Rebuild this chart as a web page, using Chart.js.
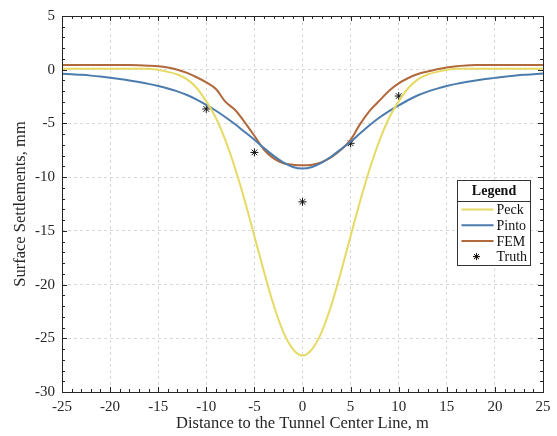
<!DOCTYPE html>
<html lang="en">
<head>
    <meta charset="UTF-8">
    <title>Surface Settlements</title>
    <style>
        body { margin: 0; background: #fff; }
        #chart { display: block; }
    </style>
    <script src="https://cdn.jsdelivr.net/npm/chart.js"></script>
</head>
<body>
    <canvas id="chart" width="557" height="436"></canvas>

    <script>
        // Data (x in m, settlement in mm)
        const xs = [-25, -24, -23, -22, -21, -20, -19, -18, -17, -16, -15, -14, -13, -12, -11, -10, -9, -8, -7, -6, -5, -4, -3, -2, -1,
                    0, 1, 2, 3, 4, 5, 6, 7, 8, 9, 10, 11, 12, 13, 14, 15, 16, 17, 18, 19, 20, 21, 22, 23, 24, 25];

        const peck = [0.1, 0.1, 0.1, 0.1, 0.1, 0.1, 0.1, 0.1, 0.1, 0.08, 0.0, -0.2, -0.45, -0.9, -1.7, -2.95, -4.5, -6.6, -9.2, -12.2, -15.5, -18.8, -21.9, -24.4, -26.0,
                      -26.6, -26.0, -24.4, -21.9, -18.8, -15.5, -12.2, -9.2, -6.6, -4.5, -2.95, -1.7, -0.9, -0.45, -0.2, 0.0, 0.08, 0.1, 0.1, 0.1, 0.1, 0.1, 0.1, 0.1, 0.1, 0.1];

        const pinto = [-0.38, -0.43, -0.48, -0.55, -0.64, -0.75, -0.87, -1.0, -1.15, -1.32, -1.52, -1.75, -2.02, -2.35, -2.78, -3.28, -3.82, -4.42, -5.08, -5.8, -6.52, -7.3, -8.02, -8.62, -9.05,
                       -9.2, -9.05, -8.65, -8.08, -7.4, -6.7, -5.92, -5.15, -4.45, -3.85, -3.32, -2.82, -2.38, -2.04, -1.76, -1.52, -1.32, -1.15, -1.0, -0.87, -0.76, -0.65, -0.56, -0.48, -0.42, -0.36];

        const fem = [0.45, 0.45, 0.45, 0.45, 0.45, 0.45, 0.45, 0.44, 0.42, 0.38, 0.32, 0.2, 0.0, -0.3, -0.7, -1.18, -1.8, -3.0, -3.75, -4.9, -6.15, -7.45, -8.25, -8.7, -8.85,
                     -8.9, -8.85, -8.6, -8.14, -7.46, -6.53, -5.04, -3.8, -2.88, -1.95, -1.27, -0.77, -0.4, -0.16, 0.05, 0.2, 0.32, 0.39, 0.43, 0.45, 0.45, 0.45, 0.45, 0.45, 0.45, 0.45];

        const truthX = [-10, -5, 0, 5, 10];
        const truthY = [-3.65, -7.7, -12.3, -6.85, -2.45];

        const xTicks = [-25, -20, -15, -10, -5, 0, 5, 10, 15, 20, 25];
        const yTicks = [-30, -25, -20, -15, -10, -5, 0, 5];

        const FONT = "'Liberation Serif', 'Times New Roman', serif";
        const AXIS_COLOR = '#262626';

        function toPoints(x, y) {
            return x.map((v, i) => ({ x: v, y: y[i] }));
        }

        // Box, inward ticks and legend drawn on top of the plot
        const framePlugin = {
            id: 'frame',
            afterDraw(chart) {
                const { ctx, chartArea: a, scales } = chart;
                const xs_ = scales.x, ys_ = scales.y;
                ctx.save();
                ctx.strokeStyle = AXIS_COLOR;
                ctx.lineWidth = 1;

                // minor + major ticks on all four sides
                ctx.beginPath();
                for (let v = -25; v <= 25; v++) {
                    const px = Math.round(xs_.getPixelForValue(v)) + 0.5;
                    const len = v % 5 === 0 ? 5 : 3;
                    ctx.moveTo(px, a.bottom); ctx.lineTo(px, a.bottom - len);
                    ctx.moveTo(px, a.top); ctx.lineTo(px, a.top + len);
                }
                for (let v = -30; v <= 5; v++) {
                    const py = Math.round(ys_.getPixelForValue(v)) + 0.5;
                    const len = v % 5 === 0 ? 5 : 3;
                    ctx.moveTo(a.left, py); ctx.lineTo(a.left + len, py);
                    ctx.moveTo(a.right, py); ctx.lineTo(a.right - len, py);
                }
                ctx.stroke();
                ctx.strokeRect(Math.round(a.left) + 0.5, Math.round(a.top) + 0.5,
                               Math.round(a.right - a.left), Math.round(a.bottom - a.top));

                // legend box
                const bx = Math.round(a.right) - 85.5, by = 180.5, bw = 73, bh = 85;
                ctx.fillStyle = '#fff';
                ctx.fillRect(bx, by, bw, bh);
                ctx.strokeStyle = '#333';
                ctx.strokeRect(bx, by, bw, bh);
                ctx.beginPath();
                ctx.moveTo(bx, by + 21); ctx.lineTo(bx + bw, by + 21);
                ctx.stroke();

                ctx.fillStyle = '#111';
                ctx.font = 'bold 14px ' + FONT;
                ctx.textAlign = 'center';
                ctx.textBaseline = 'middle';
                ctx.fillText('Legend', bx + bw / 2, by + 11);

                ctx.font = '14px ' + FONT;
                ctx.textAlign = 'left';
                chart.data.datasets.forEach((ds, i) => {
                    const ry = by + 29 + i * 15.7;
                    if (ds.showLine === false) {
                        Chart.helpers.drawPoint(ctx, {
                            pointStyle: 'star', radius: 3.5, borderWidth: 1
                        }, bx + 19, ry);
                        ctx.strokeStyle = ds.borderColor;
                        ctx.stroke();
                    } else {
                        ctx.strokeStyle = ds.borderColor;
                        ctx.lineWidth = 2;
                        ctx.beginPath();
                        ctx.moveTo(bx + 4, ry); ctx.lineTo(bx + 36, ry);
                        ctx.stroke();
                        ctx.lineWidth = 1;
                    }
                    ctx.fillStyle = '#111';
                    ctx.fillText(ds.label, bx + 39, ry + 1);
                });
                ctx.restore();
            }
        };

        const lineDefaults = { borderWidth: 2, pointRadius: 0, fill: false, cubicInterpolationMode: 'monotone' };

        new Chart(document.getElementById('chart'), {
            type: 'line',
            data: {
                datasets: [
                    { label: 'Peck', data: toPoints(xs, peck), borderColor: '#E6DA64', ...lineDefaults },
                    { label: 'Pinto', data: toPoints(xs, pinto), borderColor: '#4C7CAE', ...lineDefaults },
                    { label: 'FEM', data: toPoints(xs, fem), borderColor: '#B0683C', ...lineDefaults },
                    {
                        label: 'Truth', data: toPoints(truthX, truthY), showLine: false,
                        borderColor: '#111', backgroundColor: '#111',
                        pointStyle: 'star', pointRadius: 4, pointBorderWidth: 1
                    }
                ]
            },
            options: {
                responsive: false,
                animation: false,
                devicePixelRatio: 1,
                layout: { padding: { left: 0, right: 14, top: 15, bottom: 0 } },
                plugins: { legend: { display: false }, tooltip: { enabled: false } },
                scales: {
                    x: {
                        type: 'linear', min: -25, max: 25,
                        afterFit: s => { s.height = 44; },
                        afterBuildTicks: s => { s.ticks = xTicks.map(v => ({ value: v })); },
                        ticks: { color: AXIS_COLOR, font: { family: FONT, size: 15 }, padding: 6, maxRotation: 0 },
                        grid: { color: '#d9d9d9', drawTicks: false },
                        border: { display: false, dash: [3, 3] },
                        title: {
                            display: true, text: 'Distance to the Tunnel Center Line, m',
                            color: AXIS_COLOR, font: { family: FONT, size: 16.5 }, padding: { top: 0, bottom: 2 }
                        }
                    },
                    y: {
                        type: 'linear', min: -30, max: 5,
                        afterFit: s => { s.width = 62; },
                        afterBuildTicks: s => { s.ticks = yTicks.map(v => ({ value: v })); },
                        ticks: { color: AXIS_COLOR, font: { family: FONT, size: 15 }, padding: 7 },
                        grid: { color: '#d9d9d9', drawTicks: false },
                        border: { display: false, dash: [3, 3] },
                        title: {
                            display: true, text: 'Surface Settlements, mm',
                            color: AXIS_COLOR, font: { family: FONT, size: 16.5 }, padding: { top: 11, bottom: 0 }
                        }
                    }
                }
            },
            plugins: [framePlugin]
        });
    </script>
</body>
</html>
